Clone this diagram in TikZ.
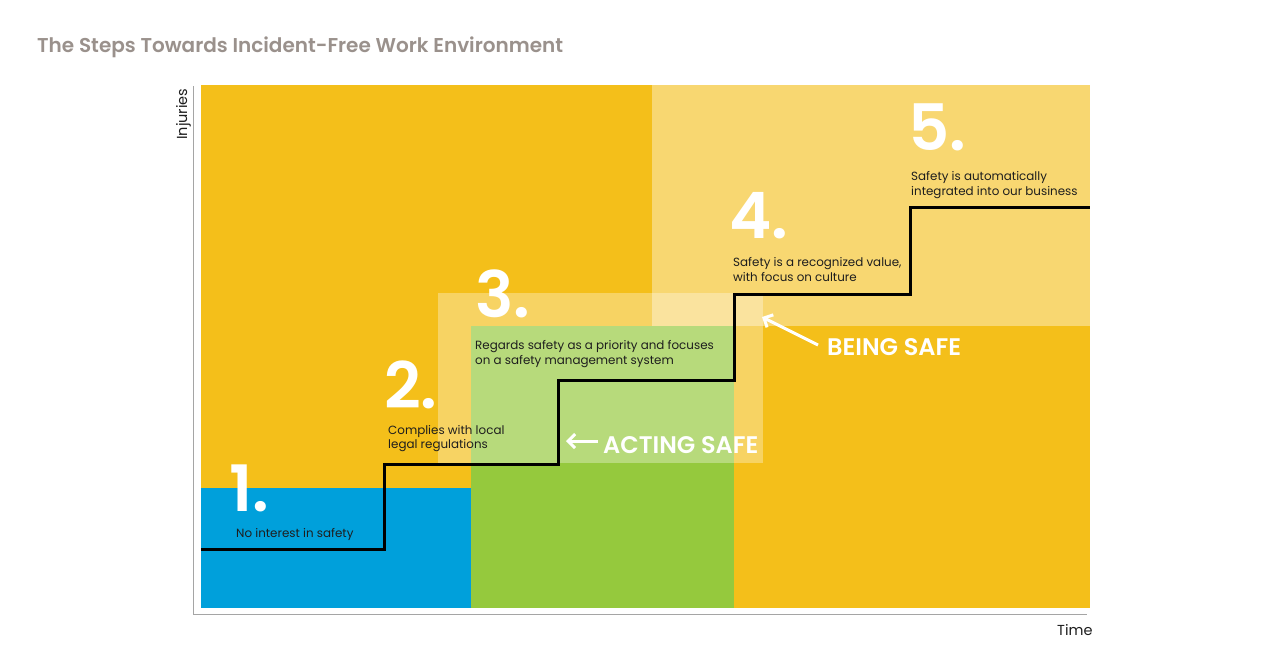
\documentclass[tikz,border=0pt]{standalone}
\usepackage{fontspec}
\setmainfont{Poppins}[BoldFont={Poppins SemiBold}]
\usetikzlibrary{arrows.meta}
\definecolor{cyel}{HTML}{F4BF1A}
\definecolor{cblue}{HTML}{00A0DB}
\definecolor{cgreen}{HTML}{95C93D}
\definecolor{ctitle}{HTML}{9A918C}
\definecolor{ctext}{HTML}{1E1E1E}
\definecolor{caxis}{HTML}{A5A5A5}
\tikzset{
  desc/.style={font=\fontsize{11.9}{14}\selectfont, text=ctext, anchor=base west, inner sep=0pt},
  bignum/.style={font=\fontsize{64}{64}\selectfont\bfseries, text=white, anchor=base west, inner sep=0pt},
  safe/.style={font=\fontsize{24}{24}\selectfont\bfseries, text=white, anchor=base west, inner sep=0pt},
  axislabel/.style={font=\fontsize{14.5}{16}\selectfont, text=ctext, anchor=base west, inner sep=0pt},
  stepline/.style={line width=3pt, draw=black, line join=miter},
  safearrow/.style={draw=white, line width=3pt, -{Straight Barb[length=7pt,width=14pt,line width=3pt]}},
  axisline/.style={draw=caxis, line width=1pt},
}
\begin{document}
\begin{tikzpicture}[x=1pt,y=-1pt]
\useasboundingbox[fill=white] (0,0) rectangle (1280,667);
% title
\node[font=\fontsize{20}{22}\selectfont\bfseries, text=ctitle, anchor=base west, inner sep=0pt] (title) at (37,52) {The Steps Towards Incident-Free Work Environment};
% axes
\coordinate (ax0) at (193,614);
\coordinate (axtop) at (193,86);
\coordinate (axright) at (1087,614);
\draw[axisline] (axtop) -- (ax0) -- (axright);
\node[axislabel, rotate=90] (injuries) at (187,140) {Injuries};
\node[axislabel] (time) at (1057,635) {Time};
% areas
\fill[cyel] (201,85) rectangle (1090,608);
\fill[cblue] (201,488) rectangle (471,608);
\fill[cgreen] (471,326) rectangle (734,608);
\fill[white, opacity=0.38] (652,85) rectangle (1090,326);
\fill[white, opacity=0.32] (438,293) rectangle (763,463);
% step line
\coordinate (s0) at (201,549);
\coordinate (s1) at (384,464);
\coordinate (s2) at (558,380);
\coordinate (s3) at (734,294);
\coordinate (s4) at (910,207);
\coordinate (s5) at (1090,207);
\draw[stepline] (s0) -| (s1) -| (s2) -| (s3) -| (s4) -- (s5);
% numbers
\node[bignum] (n1) at (229,511) {1.};
\node[bignum] (n2) at (384,408) {2.};
\node[bignum] (n3) at (475,317) {3.};
\node[bignum] (n4) at (729,238) {4.};
\node[bignum] (n5) at (908,150) {5.};
% descriptions
\node[desc] (d1) at (236,537) {No interest in safety};
\node[desc] (d2a) at (388,434) {Complies with local};
\node[desc] (d2b) at (388,448) {legal regulations};
\node[desc] (d3a) at (475,349) {Regards safety as a priority and focuses};
\node[desc] (d3b) at (475,364) {on a safety management system};
\node[desc] (d4a) at (733,266) {Safety is a recognized value,};
\node[desc] (d4b) at (733,281) {with focus on culture};
\node[desc] (d5a) at (911,180) {Safety is automatically};
\node[desc] (d5b) at (911,195) {integrated into our business};
% safe labels
\node[safe] (being) at (827,355) {BEING SAFE};
\node[safe] (acting) at (603,453) {ACTING SAFE};
\coordinate (beingtail) at (818,345);
\coordinate (beingtip) at (762,317);
\coordinate (actingtail) at (598,441);
\coordinate (actingtip) at (566,441);
\draw[safearrow] (beingtail) -- (beingtip);
\draw[safearrow] (actingtail) -- (actingtip);
\end{tikzpicture}
\end{document}
